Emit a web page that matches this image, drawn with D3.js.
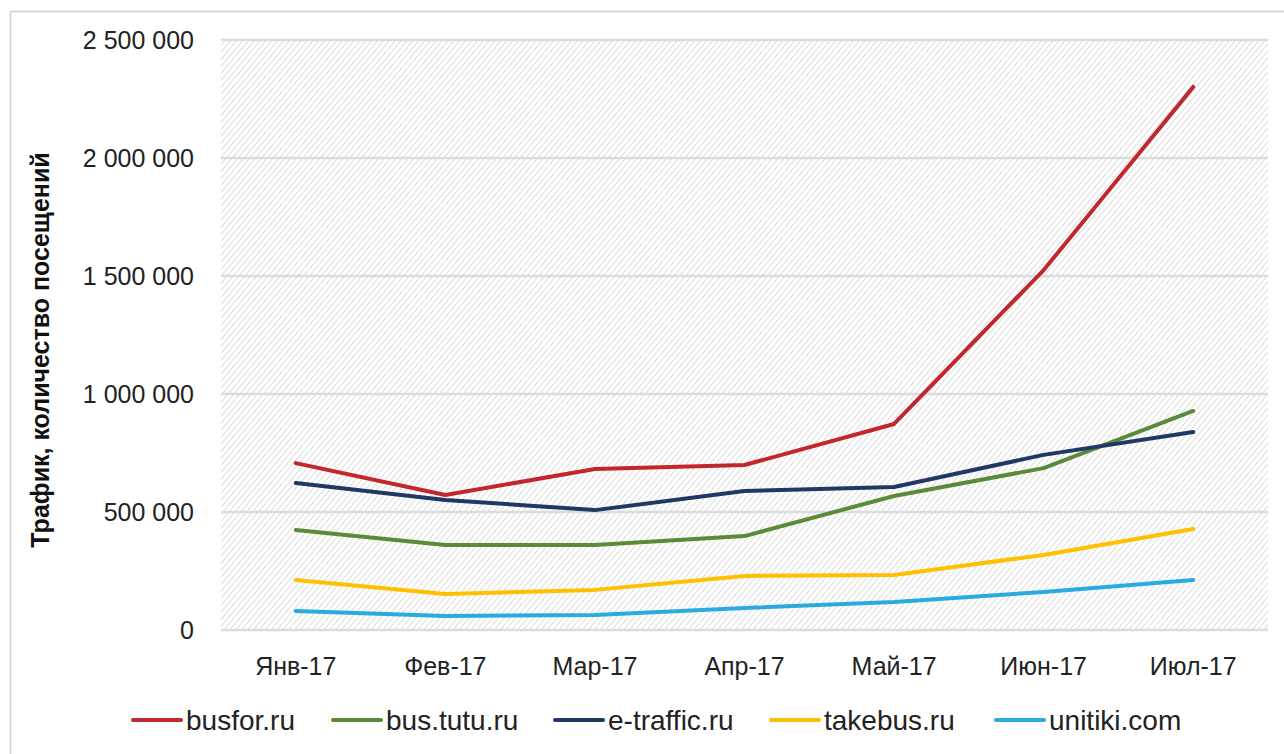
<!DOCTYPE html>
<html><head><meta charset="utf-8">
<script src="https://cdn.jsdelivr.net/npm/d3@7"></script>
<style>body{margin:0;background:#fff}svg{display:block}</style>
</head><body>
<svg id="c" width="1284" height="754"></svg>
<script>
const categories = ["Янв-17","Фев-17","Мар-17","Апр-17","Май-17","Июн-17","Июл-17"];
const seriesNames = ["busfor.ru","bus.tutu.ru","e-traffic.ru","takebus.ru","unitiki.com"];
const busfor   = [707000, 572000, 682000, 699000, 873000, 1525000, 2301000];
const bustutu  = [424000, 360000, 360000, 398000, 568000, 686000, 928000];
const etraffic = [623000, 551000, 508000, 589000, 606000, 742000, 839000];
const takebus  = [212000, 153000, 170000, 229000, 233000, 318000, 428000];
const unitiki  = [81000, 59000, 64000, 93000, 119000, 161000, 212000];
const yTicks = [0, 500000, 1000000, 1500000, 2000000, 2500000];
const colors = ["#C1272D","#5A8A3A","#1F3864","#FFC000","#2BAAE2"];
const allSeries = [busfor, bustutu, etraffic, takebus, unitiki];

const svg = d3.select("#c");
const FONT = "'Liberation Sans',Arial,sans-serif";
// chart border
svg.append("rect").attr("x",10.5).attr("y",11.5).attr("width",1400).attr("height",900)
  .attr("fill","#fff").attr("stroke","#cfcfcf").attr("stroke-width",1.5);

const L=221, R=1268, T=40, B=630;
const x = d3.scaleBand().domain(categories).range([L,R]);
const y = d3.scaleLinear().domain([0,2500000]).range([B,T]);

const defs = svg.append("defs");
const pat = defs.append("pattern").attr("id","hatch").attr("patternUnits","userSpaceOnUse")
  .attr("width",4.5).attr("height",4.5).attr("patternTransform","rotate(40)");
pat.append("rect").attr("width",4.5).attr("height",4.5).attr("fill","#fff");
pat.append("line").attr("x1",0).attr("y1",0).attr("x2",0).attr("y2",4.5)
  .attr("stroke","#d9d9d9").attr("stroke-width",1.8);

svg.append("rect").attr("x",L).attr("y",T).attr("width",R-L).attr("height",B-T).attr("fill","url(#hatch)");

// gridlines
svg.append("g").selectAll("line").data(yTicks).join("line")
  .attr("x1",L).attr("x2",R).attr("y1",d=>y(d)).attr("y2",d=>y(d))
  .attr("stroke","#dcdcdc").attr("stroke-width",2.5);

// y axis labels
const fmt = d => d3.format(",")(d).replace(/,/g," ");
const yAxis = d3.axisLeft(y).tickValues(yTicks).tickFormat(fmt).tickSize(0).tickPadding(0);
const gy = svg.append("g").attr("transform",`translate(194,0)`).call(yAxis);
gy.select(".domain").remove();
gy.selectAll("text").attr("font-family",FONT).attr("font-size",25).attr("fill","#222").attr("dy","0.35em");

// x axis labels
const xAxis = d3.axisBottom(x).tickSize(0).tickPadding(0);
const gx = svg.append("g").attr("transform",`translate(0,666)`).call(xAxis);
gx.select(".domain").remove();
gx.selectAll("text").attr("font-family",FONT).attr("font-size",25).attr("fill","#222").attr("dy","0.35em");

// y title
svg.append("text").attr("transform","translate(40,350) rotate(-90)")
  .attr("text-anchor","middle").attr("dy","0.35em")
  .attr("font-family",FONT).attr("font-weight","bold")
  .attr("font-size",25).attr("fill","#111").text("Трафик, количество посещений");

// lines
const line = d3.line().x((d,i)=>x(categories[i])+x.bandwidth()/2).y(d=>y(d));
allSeries.forEach((s,k)=>{
  svg.append("path").datum(s).attr("d",line).attr("fill","none")
    .attr("stroke",colors[k]).attr("stroke-width",4).attr("stroke-linejoin","round").attr("stroke-linecap","round");
});

// legend
const legX = [133, 333, 555, 771, 996];
const lg = svg.append("g");
seriesNames.forEach((n,k)=>{
  const g = lg.append("g").attr("transform",`translate(${legX[k]},720)`);
  g.append("line").attr("x1",0).attr("x2",48).attr("y1",0).attr("y2",0)
    .attr("stroke",colors[k]).attr("stroke-width",4).attr("stroke-linecap","round");
  g.append("text").attr("x",53).attr("dy","0.35em")
    .attr("font-family",FONT).attr("font-size",28).attr("fill","#222").text(n);
});
</script>
</body></html>
